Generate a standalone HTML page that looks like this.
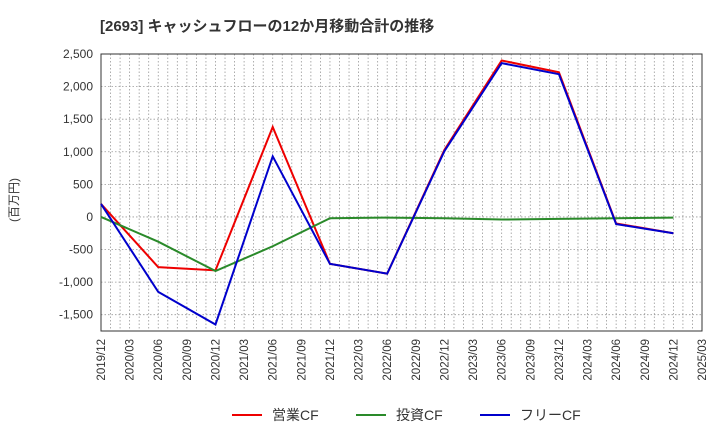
<!DOCTYPE html>
<html><head><meta charset="utf-8"><style>
body{margin:0;background:#fff;}
svg text{font-family:"Liberation Sans","Noto Sans CJK JP",sans-serif;}
</style></head><body>
<svg id="c" width="720" height="440" xmlns="http://www.w3.org/2000/svg">
<text x="100" y="31" font-size="15" font-weight="bold" fill="#333">[2693]  キャッシュフローの12か月移動合計の推移</text>
<text x="18" y="200" font-size="12" fill="#333" transform="rotate(-90 18 200)" text-anchor="middle">(百万円)</text>
<g id="grid"></g><g id="axes"></g><g id="series"></g>
<g>
<line x1="232" y1="415" x2="262" y2="415" stroke="#e00" stroke-width="2"/><text x="272" y="420" font-size="14" fill="#333">営業CF</text>
<line x1="356" y1="415" x2="386" y2="415" stroke="#2a8a2a" stroke-width="2"/><text x="396" y="420" font-size="14" fill="#333">投資CF</text>
<line x1="480" y1="415" x2="510" y2="415" stroke="#00c" stroke-width="2"/><text x="520" y="420" font-size="14" fill="#333">フリーCF</text>
</g>
</svg>
<script>
const xLabels=["2019/12","2020/03","2020/06","2020/09","2020/12","2021/03","2021/06","2021/09","2021/12","2022/03","2022/06","2022/09","2022/12","2023/03","2023/06","2023/09","2023/12","2024/03","2024/06","2024/09","2024/12","2025/03"];
const yTicks=[2500,2000,1500,1000,500,0,-500,-1000,-1500];
const pointIdx=[0,2,4,6,8,10,12,14,16,18,20];
const operatingCF=[200,-770,-820,1380,-720,-870,1030,2400,2220,-100,-250];
const investingCF=[0,-380,-830,-450,-20,-10,-20,-40,-30,-20,-10];
const freeCF=[200,-1150,-1650,930,-720,-870,1010,2360,2190,-110,-250];
const L=101,R=702,T=54,B=331,yMax=2500,yMin=-1750;
const xs=i=>L+(R-L)*i/(xLabels.length-1);
const ys=v=>T+(yMax-v)/(yMax-yMin)*(B-T);
const NS="http://www.w3.org/2000/svg";
function mk(tag,attrs,parent){const e=document.createElementNS(NS,tag);for(const k in attrs)e.setAttribute(k,attrs[k]);document.getElementById(parent).appendChild(e);return e;}
const nMonths=(xLabels.length-1)*3;
for(let m=1;m<nMonths;m++){const x=L+(R-L)*m/nMonths;const g=mk('line',{x1:x,x2:x,y1:T,y2:B,stroke:'#999','stroke-dasharray':'1.5,2','stroke-width':0.8},'grid');

}
yTicks.forEach(v=>{const y=ys(v);const g=mk('line',{x1:L,x2:R,y1:y,y2:y,stroke:'#999','stroke-dasharray':'1.5,2','stroke-width':0.8},'grid');


const t=mk('text',{x:L-8,y:y+4,'text-anchor':'end','font-size':12,fill:'#333'},'axes');t.textContent=v.toLocaleString('en-US');

});
const fr=mk('rect',{x:L,y:T,width:R-L,height:B-T,fill:'none',stroke:'#333','stroke-width':1},'axes');


xLabels.forEach((lb,i)=>{const x=xs(i)+4;const t=mk('text',{x:x,y:339,'text-anchor':'end','font-size':11.5,fill:'#333',transform:`rotate(-90 ${x} 339)`},'axes');t.textContent=lb;

});
[[operatingCF,'#e00','operating-cf-line'],[investingCF,'#2a8a2a','investing-cf-line'],[freeCF,'#00c','free-cf-line']].forEach(([d,c,n])=>{
const p=mk('polyline',{points:d.map((v,k)=>xs(pointIdx[k])+','+ys(v)).join(' '),fill:'none',stroke:c,'stroke-width':2},'series');

});
</script>
</body></html>
